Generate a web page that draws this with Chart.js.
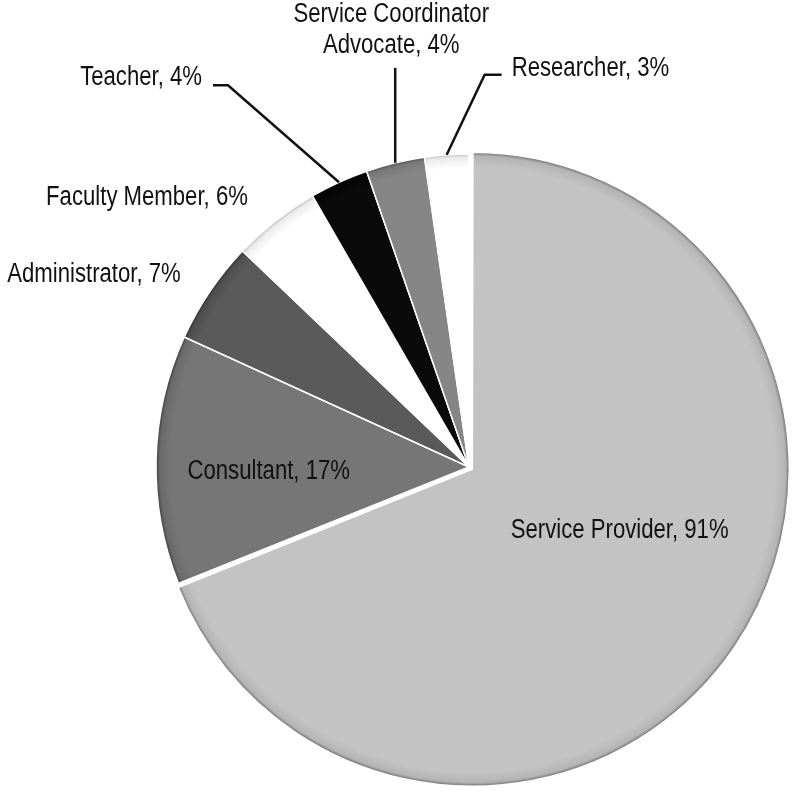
<!DOCTYPE html>
<html>
<head>
<meta charset="utf-8">
<script src="https://cdn.jsdelivr.net/npm/chart.js@4.4.1/dist/chart.umd.min.js"></script>
<style>
  html, body { margin: 0; padding: 0; background: #fff; }
  #wrap { width: 797px; height: 799px; }
</style>
</head>
<body>
<div id="wrap"><canvas id="pie-chart"></canvas></div>
<script>
// data (multiple responses, so the percents add up past 100)
const categories = ["Service Provider", "Consultant", "Administrator", "Faculty Member", "Teacher", "Service Coordinator Advocate", "Researcher"];
const percents = [91, 17, 7, 6, 4, 4, 3];
// how each label is split onto lines
const labelLines = [
  ["Service Provider, 91%"],
  ["Consultant, 17%"],
  ["Administrator, 7%"],
  ["Faculty Member, 6%"],
  ["Teacher, 4%"],
  ["Service Coordinator", "Advocate, 4%"],
  ["Researcher, 3%"]
];

// styles
const baseColors = ["#c3c3c3", "#767676", "#5a5a5a", "#ffffff", "#0a0a0a", "#868686", "#ffffff"];
const edgeColors = ["#b4b4b4", "#6a6a6a", "#4e4e4e", "#ececec", "#050505", "#787878", "#ececec"];
const rimColors  = ["#6e6e6e", "#3e3e3e", "#303030", "#bdbdbd", "#000000", "#505050", "#c4c4c4"];
const offsets = [16, 0, 0, 0, 0, 0, 0];
const RADIUS = 313;
// no narrow face installed, so squeeze a regular one
const FONT = '27px "Liberation Sans", Arial, sans-serif';
const SQUEEZE = 0.82;

// label placement: angle in degrees clockwise from top, dist as share of radius
const labelLayout = [
  { type: 'inside', angle: 112.6, dist: 0.51 },
  { type: 'inside', angle: 268.6, dist: 0.64 },
  { type: 'outside', angle: 303.7, dist: 1.107, align: 'right' },
  { type: 'outside', angle: 320.6, dist: 1.113, align: 'right' },
  { type: 'leader', elbow: [-111, -97], tick: -15, gap: 11, dy: -8, align: 'right' },
  { type: 'leader', elbow: [0, -95], tick: 0, gap: 0, dx: -4, dy: -22.5, align: 'center' },
  { type: 'leader', elbow: [38, -80], tick: 17, gap: 10, dy: -6.5, align: 'left' }
];

function shade(ctx) {
  const chart = ctx.chart;
  const area = chart.chartArea;
  const i = ctx.dataIndex;
  if (!area || i === undefined) return baseColors[i] || '#ccc';
  const cx = (area.left + area.right) / 2;
  const cy = (area.top + area.bottom) / 2;
  const r = RADIUS + offsets[i] / 4;
  const g = chart.ctx.createRadialGradient(cx, cy, 0, cx, cy, r);
  g.addColorStop(0, baseColors[i]);
  g.addColorStop(0.955, baseColors[i]);
  g.addColorStop(0.988, edgeColors[i]);
  g.addColorStop(1, rimColors[i]);
  return g;
}

const labelPlugin = {
  id: 'sliceLabels',
  afterDatasetsDraw(chart) {
    const ctx = chart.ctx;
    const arcs = chart.getDatasetMeta(0).data;
    ctx.save();
    ctx.font = FONT;
    ctx.fillStyle = '#111';
    ctx.strokeStyle = '#111';
    ctx.lineWidth = 2.5;
    ctx.textBaseline = 'middle';
    arcs.forEach((arc, i) => {
      const p = arc.getProps(['x', 'y', 'startAngle', 'endAngle', 'outerRadius'], true);
      const L = labelLayout[i];
      const lines = labelLines[i];
      const lineH = 31;
      let tx, ty;
      if (L.type === 'inside' || L.type === 'outside') {
        const a = (L.angle - 90) * Math.PI / 180;
        const shift = offsets[i] / 4;
        const mid = (p.startAngle + p.endAngle) / 2;
        tx = p.x + Math.cos(mid) * shift + Math.cos(a) * RADIUS * L.dist;
        ty = p.y + Math.sin(mid) * shift + Math.sin(a) * RADIUS * L.dist;
        ctx.textAlign = L.type === 'inside' ? 'center' : L.align;
      } else {
        const mid = (p.startAngle + p.endAngle) / 2;
        const x0 = p.x + Math.cos(mid) * p.outerRadius;
        const y0 = p.y + Math.sin(mid) * p.outerRadius;
        const ex = x0 + L.elbow[0], ey = y0 + L.elbow[1];
        ctx.beginPath();
        ctx.moveTo(x0, y0);
        ctx.lineTo(ex, ey);
        if (L.tick) ctx.lineTo(ex + L.tick, ey);
        ctx.stroke();
        const endX = ex + L.tick;
        if (L.align === 'right') tx = endX - L.gap;
        else if (L.align === 'left') tx = endX + L.gap;
        else tx = ex + (L.dx || 0);
        ty = ey + L.dy;
        ctx.textAlign = L.align;
      }
      // last line sits at ty, earlier lines stack above it
      lines.forEach((line, k) => {
        ctx.save();
        ctx.translate(tx, ty - (lines.length - 1 - k) * lineH);
        ctx.scale(SQUEEZE, 1);
        ctx.fillText(line, 0, 0);
        ctx.restore();
      });
    });
    ctx.restore();
  }
};

new Chart(document.getElementById("pie-chart"), {
  type: 'pie',
  data: {
    labels: categories,
    datasets: [{
      data: percents,
      backgroundColor: shade,
      borderColor: '#ffffff',
      borderWidth: 1.5,
      offset: offsets
    }]
  },
  options: {
    responsive: true,
    maintainAspectRatio: false,
    animation: false,
    radius: RADIUS,
    layout: { padding: { left: 141, right: 0, top: 135, bottom: 0 } },
    plugins: {
      legend: { display: false },
      tooltip: { enabled: false }
    }
  },
  plugins: [labelPlugin]
});
</script>
</body>
</html>
